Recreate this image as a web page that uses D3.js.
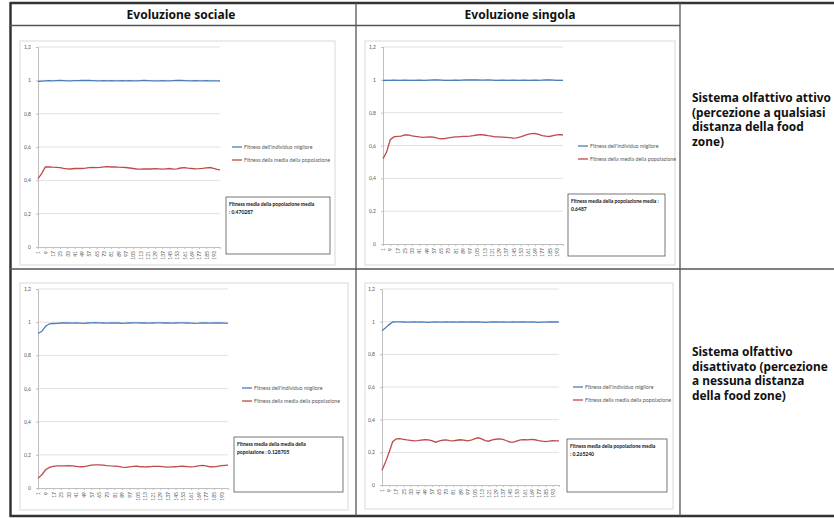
<!DOCTYPE html>
<html>
<head>
<meta charset="utf-8">
<script src="https://cdn.jsdelivr.net/npm/d3@7"></script>
<style>
    body { margin: 0; background: #fff; }
    svg { display: block; }
</style>
</head>
<body>
<svg id="chart" width="834" height="518"></svg>
<script>
// generations (every 4th one, plus the last)
const generations = [1, 5, 9, 13, 17, 21, 25, 29, 33, 37,
    41, 45, 49, 53, 57, 61, 65, 69, 73, 77,
    81, 85, 89, 93, 97, 101, 105, 109, 113, 117,
    121, 125, 129, 133, 137, 141, 145, 149, 153, 157,
    161, 165, 169, 173, 177, 181, 185, 189, 193, 197,
    200];
const xTickLabels = [1, 9, 17, 25, 33, 41, 49, 57, 65, 73, 81, 89, 97, 105, 113, 121, 129, 137, 145, 153, 161, 169, 177, 185, 193];
const yTicks = [0, 0.2, 0.4, 0.6, 0.8, 1, 1.2];
const seriesNames = ["Fitness dell'individuo migliore", "Fitness della media della popolazione"];
const columnTitles = ["Evoluzione sociale", "Evoluzione singola"];
const rowTitles = [
    ["Sistema olfattivo attivo", "(percezione a qualsiasi", "distanza della food", "zone)"],
    ["Sistema olfattivo", "disattivato (percezione", "a nessuna distanza", "della food zone)"]
];

// sociale, olfatto attivo
const socialOnBest = [0.993, 0.995, 0.997, 0.998, 0.997, 0.998, 0.999, 0.998, 0.997, 0.997,
    0.998, 0.998, 0.999, 1.000, 0.999, 0.998, 0.997, 0.997, 0.998, 0.997,
    0.998, 0.997, 0.997, 0.998, 0.997, 0.998, 0.997, 0.997, 0.998, 0.999,
    0.998, 0.997, 0.997, 0.997, 0.998, 0.997, 0.997, 0.998, 0.999, 0.999,
    0.998, 0.997, 0.997, 0.998, 0.997, 0.997, 0.998, 0.997, 0.997, 0.997,
    0.996];
const socialOnMean = [0.410, 0.440, 0.480, 0.481, 0.479, 0.478, 0.476, 0.472, 0.469, 0.468,
    0.471, 0.472, 0.471, 0.473, 0.476, 0.477, 0.476, 0.478, 0.481, 0.482,
    0.480, 0.481, 0.479, 0.478, 0.477, 0.474, 0.471, 0.468, 0.467, 0.468,
    0.469, 0.468, 0.470, 0.469, 0.467, 0.469, 0.471, 0.467, 0.469, 0.474,
    0.476, 0.473, 0.471, 0.469, 0.470, 0.472, 0.475, 0.477, 0.472, 0.466,
    0.463];
const socialOnNote = ["Fitness media della popolazione media", ": 0.470287"];

// singola, olfatto attivo
const singleOnBest = [0.996, 0.997, 0.997, 0.998, 0.997, 0.997, 0.998, 0.997, 0.997, 0.997,
    0.998, 0.997, 0.997, 0.998, 0.999, 0.999, 0.998, 0.997, 0.997, 0.997,
    0.998, 0.997, 0.998, 0.999, 0.999, 1.000, 0.999, 0.998, 0.998, 0.999,
    0.998, 0.997, 0.997, 0.998, 0.997, 0.997, 0.998, 0.997, 0.997, 0.998,
    0.997, 0.997, 0.998, 0.997, 0.998, 1.000, 0.999, 0.998, 0.997, 0.997,
    0.997];
const singleOnMean = [0.520, 0.560, 0.635, 0.652, 0.655, 0.657, 0.664, 0.665, 0.659, 0.655,
    0.652, 0.650, 0.651, 0.652, 0.651, 0.645, 0.641, 0.642, 0.646, 0.649,
    0.652, 0.653, 0.655, 0.656, 0.657, 0.660, 0.664, 0.666, 0.664, 0.660,
    0.657, 0.653, 0.652, 0.651, 0.650, 0.648, 0.645, 0.646, 0.652, 0.660,
    0.668, 0.672, 0.673, 0.668, 0.660, 0.657, 0.655, 0.660, 0.665, 0.666,
    0.664];
const singleOnNote = ["Fitness media della popolazione media :", "0.6487"];

// sociale, olfatto disattivato
const socialOffBest = [0.932, 0.945, 0.975, 0.990, 0.992, 0.993, 0.995, 0.996, 0.995, 0.994,
    0.995, 0.994, 0.993, 0.995, 0.996, 0.997, 0.996, 0.995, 0.994, 0.995,
    0.996, 0.995, 0.993, 0.994, 0.995, 0.996, 0.996, 0.995, 0.995, 0.994,
    0.995, 0.996, 0.996, 0.995, 0.995, 0.994, 0.995, 0.996, 0.996, 0.995,
    0.994, 0.993, 0.994, 0.996, 0.995, 0.994, 0.995, 0.996, 0.995, 0.994,
    0.993];
const socialOffMean = [0.058, 0.080, 0.110, 0.124, 0.130, 0.133, 0.134, 0.134, 0.135, 0.134,
    0.131, 0.128, 0.129, 0.133, 0.138, 0.140, 0.140, 0.138, 0.135, 0.133,
    0.132, 0.130, 0.126, 0.124, 0.127, 0.130, 0.131, 0.128, 0.127, 0.128,
    0.130, 0.131, 0.130, 0.128, 0.126, 0.127, 0.128, 0.130, 0.131, 0.129,
    0.127, 0.129, 0.134, 0.136, 0.133, 0.128, 0.127, 0.131, 0.135, 0.137,
    0.138];
const socialOffNote = ["Fitness media della media della", "popolazione : 0.128705"];

// singola, olfatto disattivato
const singleOffBest = [0.945, 0.962, 0.982, 0.998, 0.999, 0.999, 0.998, 0.997, 0.997, 0.998,
    0.997, 0.998, 0.997, 0.996, 0.997, 0.998, 0.997, 0.997, 0.998, 0.997,
    0.998, 0.997, 0.998, 0.998, 0.997, 0.998, 0.999, 0.998, 0.997, 0.996,
    0.997, 0.998, 0.998, 0.997, 0.998, 0.997, 0.997, 0.998, 0.997, 0.998,
    0.998, 0.997, 0.998, 0.997, 0.996, 0.997, 0.997, 0.998, 0.998, 0.998,
    0.999];
const singleOffMean = [0.090, 0.140, 0.200, 0.265, 0.283, 0.284, 0.280, 0.276, 0.273, 0.270,
    0.272, 0.275, 0.277, 0.276, 0.272, 0.262, 0.268, 0.274, 0.276, 0.272,
    0.270, 0.274, 0.277, 0.275, 0.270, 0.274, 0.283, 0.289, 0.282, 0.272,
    0.268, 0.276, 0.280, 0.282, 0.279, 0.271, 0.263, 0.262, 0.270, 0.276,
    0.278, 0.276, 0.279, 0.277, 0.272, 0.268, 0.266, 0.269, 0.271, 0.270,
    0.270];
const singleOffNote = ["Fitness media della popolazione media", ": 0.265240"];

const colors = ["#4a7ebb", "#be4b48"];
const font = "Lato, 'Open Sans', sans-serif";
const titleFont = "'Noto Sans', 'Open Sans', sans-serif";
const fmt = d3.formatLocale({ decimal: ",", thousands: ".", grouping: [3], currency: ["", ""] }).format("~g");

// layout of each pasted chart: frame box, plot box (x0, x1, y of 0, y of 1.2), legend, note box
const panels = [
    { best: socialOnBest, mean: socialOnMean, note: socialOnNote,
      frame: [20, 41, 335, 265], plot: [38, 220, 247, 47], legend: [232, 147], box: [226, 197, 330, 254] },
    { best: singleOnBest, mean: singleOnMean, note: singleOnNote,
      frame: [365, 41, 675, 265], plot: [383, 563, 244, 47], legend: [578, 146], box: [568, 194, 665, 256] },
    { best: socialOffBest, mean: socialOffMean, note: socialOffNote,
      frame: [20, 283, 348, 510], plot: [38, 228, 488, 289], legend: [242, 388], box: [234, 437, 343, 492] },
    { best: singleOffBest, mean: singleOffMean, note: singleOffNote,
      frame: [365, 283, 673, 509], plot: [382, 559, 485, 289], legend: [573, 387], box: [567, 439, 667, 492] }
];

const svg = d3.select("#chart");
svg.append("rect").attr("width", 834).attr("height", 518).attr("fill", "#fff");

function drawPanel(p) {
    const g = svg.append("g");

    g.append("rect")
        .attr("x", p.frame[0]).attr("y", p.frame[1])
        .attr("width", p.frame[2] - p.frame[0]).attr("height", p.frame[3] - p.frame[1])
        .attr("fill", "#fff").attr("stroke", "#d9d9d9");

    const x = d3.scaleLinear().domain([1, 200]).range([p.plot[0], p.plot[1]]);
    const y = d3.scaleLinear().domain([0, 1.2]).range([p.plot[2], p.plot[3]]);

    // gridlines
    g.append("g").selectAll("line")
        .data(yTicks.filter(t => t > 0))
        .join("line")
        .attr("x1", p.plot[0]).attr("x2", p.plot[1])
        .attr("y1", d => y(d)).attr("y2", d => y(d))
        .attr("stroke", "#d9d9d9").attr("stroke-width", 0.8);

    const yAxis = g.append("g")
        .attr("transform", `translate(${p.plot[0]},0)`)
        .call(d3.axisLeft(y).tickValues(yTicks).tickFormat(fmt).tickSize(2).tickPadding(5));

    const xAxis = g.append("g")
        .attr("transform", `translate(0,${p.plot[2]})`)
        .call(d3.axisBottom(x).tickValues(xTickLabels).tickSize(2));
    xAxis.selectAll("text")
        .attr("transform", "rotate(-90)")
        .attr("x", -4).attr("y", 0).attr("dy", "0.35em")
        .style("text-anchor", "end");

    [xAxis, yAxis].forEach(a => {
        a.select(".domain").attr("stroke", "#bfbfbf");
        a.selectAll(".tick line").attr("stroke", "#bfbfbf");
        a.selectAll("text").attr("fill", "#595959").style("font-size", "5px").style("font-family", font);
    });

    const line = d3.line()
        .x(d => x(d.gen))
        .y(d => y(d.value));

    [p.best, p.mean].forEach((values, i) => {
        const pts = values.map((v, j) => ({ gen: generations[j], value: v }));
        g.append("path")
            .attr("d", line(pts))
            .attr("fill", "none")
            .attr("stroke", colors[i])
            .attr("stroke-width", 1.3);
    });

    // legend
    const legend = g.append("g").attr("transform", `translate(${p.legend[0]},${p.legend[1]})`);
    seriesNames.forEach((name, i) => {
        legend.append("line")
            .attr("x1", 0).attr("x2", 10).attr("y1", i * 13).attr("y2", i * 13)
            .attr("stroke", colors[i]).attr("stroke-width", 1.3);
        legend.append("text")
            .attr("x", 12).attr("y", i * 13).attr("dy", "0.35em")
            .attr("fill", "#595959")
            .style("font-size", "5.3px").style("font-family", font)
            .text(name);
    });

    // note box
    g.append("rect")
        .attr("x", p.box[0]).attr("y", p.box[1])
        .attr("width", p.box[2] - p.box[0]).attr("height", p.box[3] - p.box[1])
        .attr("fill", "#fff").attr("stroke", "#555").attr("stroke-width", 0.8);
    p.note.forEach((t, i) => {
        g.append("text")
            .attr("x", p.box[0] + 3).attr("y", p.box[1] + 9 + i * 7.5)
            .attr("fill", "#111")
            .style("font-size", "5px").style("font-weight", "bold").style("font-family", font)
            .text(t);
    });
}

panels.forEach(drawPanel);

// table grid
const grid = svg.append("g").attr("stroke", "#333").attr("fill", "none");
grid.append("line").attr("x1", 10).attr("x2", 834).attr("y1", 3).attr("y2", 3).attr("stroke-width", 2.5);
grid.append("line").attr("x1", 10).attr("x2", 834).attr("y1", 516).attr("y2", 516).attr("stroke-width", 2.5);
grid.append("line").attr("x1", 10.5).attr("x2", 10.5).attr("y1", 2).attr("y2", 517).attr("stroke-width", 2.5);
grid.append("line").attr("x1", 10).attr("x2", 680).attr("y1", 25.5).attr("y2", 25.5).attr("stroke-width", 1.3).attr("stroke", "#555");
grid.append("line").attr("x1", 10).attr("x2", 834).attr("y1", 269).attr("y2", 269).attr("stroke-width", 1.3).attr("stroke", "#555");
grid.append("line").attr("x1", 356).attr("x2", 356).attr("y1", 3).attr("y2", 516).attr("stroke-width", 1.3).attr("stroke", "#555");
grid.append("line").attr("x1", 680).attr("x2", 680).attr("y1", 3).attr("y2", 516).attr("stroke-width", 1.3).attr("stroke", "#555");

// column titles
svg.selectAll(".col-title")
    .data(columnTitles)
    .join("text")
    .attr("class", "col-title")
    .attr("x", (d, i) => i === 0 ? 181 : 520)
    .attr("y", 19)
    .attr("text-anchor", "middle")
    .attr("fill", "#111")
    .style("font-size", "12px").style("font-weight", "bold").style("font-family", titleFont)
    .text(d => d);

// row titles: size the font so the widest line fills the cell up to the picture's right edge
const rowBlocks = rowTitles.map((lines, r) => {
    const t = svg.append("text")
        .attr("fill", "#111")
        .style("font-size", "14px").style("font-weight", "bold").style("font-family", titleFont);
    t.selectAll("tspan")
        .data(lines)
        .join("tspan")
        .attr("x", 692)
        .attr("y", (d, i) => (r === 0 ? 102 : 356) + i * 14.6)
        .text(d => d);
    return t;
});
let widest = 0;
rowBlocks.forEach(t => t.selectAll("tspan").each(function () {
    widest = Math.max(widest, this.getComputedTextLength());
}));
const titleSize = 14 * 139 / widest;
rowBlocks.forEach(t => t.style("font-size", titleSize + "px"));
</script>
</body>
</html>
